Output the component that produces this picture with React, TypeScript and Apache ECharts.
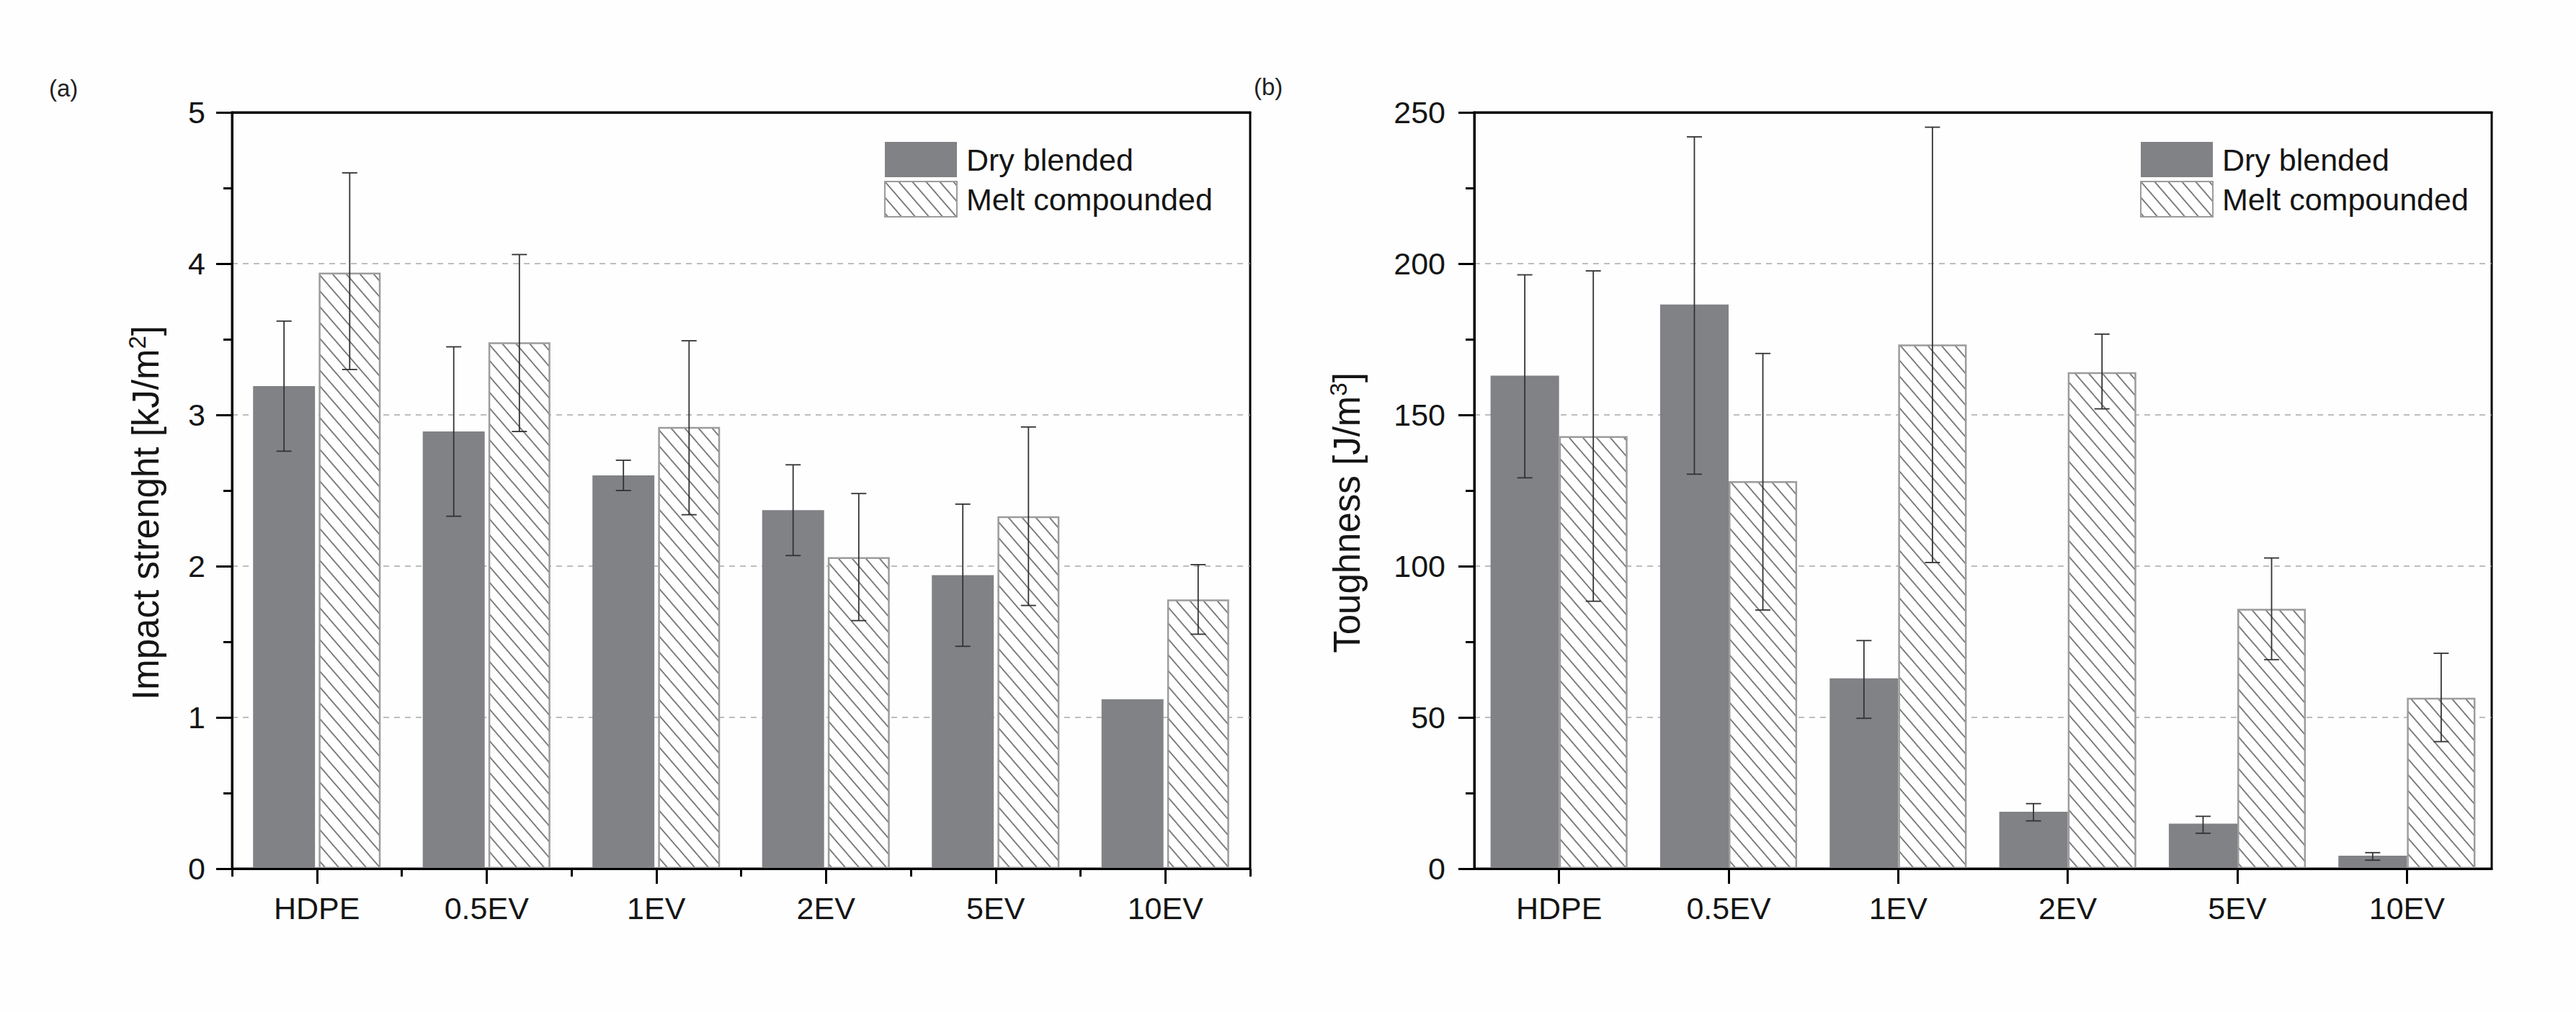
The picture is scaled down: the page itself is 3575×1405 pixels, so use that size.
import React, { useEffect, useRef } from 'react';
import * as echarts from 'echarts';

const categories = ['HDPE', '0.5EV', '1EV', '2EV', '5EV', '10EV'];
const seriesNames = ['Dry blended', 'Melt compounded'];

// (a) Impact strength [kJ/m2]
const impactDry = [3.19, 2.89, 2.6, 2.37, 1.94, 1.12];
const impactDryHigh = [3.62, 3.45, 2.7, 2.67, 2.41, null];
const impactDryLow = [2.76, 2.33, 2.5, 2.07, 1.47, null];
const impactMelt = [3.94, 3.48, 2.92, 2.06, 2.33, 1.78];
const impactMeltHigh = [4.6, 4.06, 3.49, 2.48, 2.92, 2.01];
const impactMeltLow = [3.3, 2.89, 2.34, 1.64, 1.74, 1.55];

// (b) Toughness [J/m3]
const toughDry = [163, 186.5, 62.9, 18.8, 14.9, 4.3];
const toughDryHigh = [196.3, 241.9, 75.4, 21.5, 17.3, 5.3];
const toughDryLow = [129.2, 130.4, 49.7, 15.8, 11.7, 2.8];
const toughMelt = [143, 128.1, 173.3, 164.1, 85.9, 56.5];
const toughMeltHigh = [197.6, 170.3, 245.1, 176.7, 102.7, 71.2];
const toughMeltLow = [88.4, 85.5, 101.2, 152.0, 69.1, 42.0];

const FONT = '"Liberation Sans", Arial, Helvetica, sans-serif';
const DRY_COLOR = '#818286';
const MELT_BORDER = '#9c9c9c';
const TEXT = '#151515';

function makeHatch(): HTMLCanvasElement {
  const w = 19;
  const h = 22;
  const c = document.createElement('canvas');
  c.width = w;
  c.height = h;
  const ctx = c.getContext('2d')!;
  ctx.fillStyle = '#ffffff';
  ctx.fillRect(0, 0, w, h);
  ctx.strokeStyle = '#7a7a7a';
  ctx.lineWidth = 1.8;
  for (let k = -1; k <= 1; k++) {
    ctx.beginPath();
    ctx.moveTo(k * w - w, -h);
    ctx.lineTo(k * w + 2 * w, 2 * h);
    ctx.stroke();
  }
  return c;
}

function errData(low: (number | null)[], high: (number | null)[]) {
  return categories
    .map((_, i) => [i, low[i], high[i]])
    .filter((d) => d[1] != null && d[2] != null);
}

function errorRenderer(side: number, barFrac: number, gapFrac: number) {
  return (params: any, api: any) => {
    const i = api.value(0);
    const lo = api.value(1);
    const hi = api.value(2);
    const band = api.size([1, 0])[0];
    const bw = band * barFrac;
    const off = (side * (bw + bw * gapFrac)) / 2;
    const pt = api.coord([i, hi]);
    const pb = api.coord([i, lo]);
    const x = pt[0] + off;
    const half = 10.5;
    const style = { stroke: '#333333', lineWidth: 1.8 };
    return {
      type: 'group',
      children: [
        { type: 'line', shape: { x1: x, y1: pt[1], x2: x, y2: pb[1] }, style },
        { type: 'line', shape: { x1: x - half, y1: pt[1], x2: x + half, y2: pt[1] }, style },
        { type: 'line', shape: { x1: x - half, y1: pb[1], x2: x + half, y2: pb[1] }, style },
      ],
    };
  };
}

const BAR_A = 0.365;
const GAP_A = 0.06;
const BAR_B = 0.404;
const GAP_B = 0.0;

export default function App() {
  const ref = useRef<HTMLDivElement>(null);
  useEffect(() => {
    if (!ref.current) return;
    const chart = echarts.init(ref.current, null, { renderer: 'svg' });
    const hatch = makeHatch();
    const hatchColor: any = { image: hatch, repeat: 'repeat', imageWidth: hatch.width, imageHeight: hatch.height };

    const mainX = (gridIndex: number) => ({
      type: 'category',
      gridIndex,
      data: categories,
      position: 'bottom',
      z: 5,
      boundaryGap: true,
      axisLine: { show: true, onZero: false, lineStyle: { color: '#000', width: 3 } },
      axisTick: { show: true, alignWithLabel: true, interval: 0, length: 21, lineStyle: { color: '#000', width: 3 } },
      axisLabel: { show: true, interval: 0, margin: 33, fontSize: 43, color: TEXT, fontFamily: FONT },
      splitLine: { show: false },
    });

    const topX = (gridIndex: number) => ({
      type: 'category',
      gridIndex,
      data: categories,
      position: 'top',
      z: 5,
      boundaryGap: true,
      axisLine: { show: true, onZero: false, lineStyle: { color: '#000', width: 3 } },
      axisTick: { show: false },
      axisLabel: { show: false },
      splitLine: { show: false },
    });

    const yAx = (gridIndex: number, max: number, interval: number, name: string, nameGap: number, labelMargin: number) => ({
      type: 'value',
      gridIndex,
      min: 0,
      max,
      interval,
      name,
      nameLocation: 'middle',
      nameRotate: 90,
      nameGap,
      nameTextStyle: {
        color: TEXT,
        fontFamily: FONT,
        fontSize: 51,
        padding: [0, 62, 0, 0],
        rich: {
          t: { fontSize: 51, fontFamily: FONT, color: TEXT },
          s: { fontSize: 33, fontFamily: FONT, color: TEXT, padding: [0, 0, 24, 0] },
        },
      },
      axisLine: { show: true, lineStyle: { color: '#000', width: 3 } },
      axisTick: { show: true, length: 22, lineStyle: { color: '#000', width: 3 } },
      minorTick: { show: true, splitNumber: 2, length: 12, lineStyle: { color: '#000', width: 3 } },
      axisLabel: { margin: labelMargin, fontSize: 43, color: TEXT, fontFamily: FONT },
      splitLine: { show: true, lineStyle: { color: '#a8a8a8', width: 1.6, type: [8, 7] } },
      minorSplitLine: { show: false },
    });

    const option: any = {
      animation: false,
      backgroundColor: '#fefefe',
      grid: [
        { left: 322, top: 156, width: 1413, height: 1050, show: true, borderColor: '#000', borderWidth: 3, backgroundColor: 'transparent' },
        { left: 2046, top: 156, width: 1412, height: 1050, show: true, borderColor: '#000', borderWidth: 3, backgroundColor: 'transparent' },
      ],
      xAxis: [
        mainX(0),
        {
          type: 'category',
          gridIndex: 0,
          data: categories,
          position: 'bottom',
          boundaryGap: true,
          axisLine: { show: false, onZero: false },
          axisTick: { show: true, alignWithLabel: false, interval: 0, length: 11, lineStyle: { color: '#000', width: 3 } },
          axisLabel: { show: false },
          splitLine: { show: false },
        },
        mainX(1),
        topX(0),
        topX(1),
      ],
      yAxis: [
        yAx(0, 5, 1, '{t|Impact strenght [kJ/m}{s|2}{t|]}', 91, 37),
        yAx(1, 250, 50, '{t|Toughness [J/m}{s|3}{t|]}', 148, 40),
      ],
      legend: [0, 1].map((k) => ({
        orient: 'vertical',
        left: k === 0 ? 1227 : 2970,
        top: 197,
        padding: 0,
        itemWidth: 100,
        itemHeight: 49,
        itemGap: 5,
        icon: 'rect',
        selectedMode: false,
        data: seriesNames,
        textStyle: { fontSize: 43, color: TEXT, fontFamily: FONT, padding: [0, 0, 0, 8] },
      })),
      graphic: [
        { type: 'text', x: 68, y: 122, style: { text: '(a)', fontSize: 33, fontFamily: FONT, fill: '#222', verticalAlign: 'middle' } },
        { type: 'text', x: 1740, y: 120, style: { text: '(b)', fontSize: 33, fontFamily: FONT, fill: '#222', verticalAlign: 'middle' } },
      ],
      series: [
        {
          type: 'bar', name: seriesNames[0], xAxisIndex: 0, yAxisIndex: 0, data: impactDry,
          barWidth: `${BAR_A * 100}%`, barGap: `${GAP_A * 100}%`, itemStyle: { color: DRY_COLOR },
        },
        {
          type: 'bar', name: seriesNames[1], xAxisIndex: 0, yAxisIndex: 0, data: impactMelt,
          barWidth: `${BAR_A * 100}%`, barGap: `${GAP_A * 100}%`,
          itemStyle: { color: hatchColor, borderColor: MELT_BORDER, borderWidth: 2.5 },
        },
        {
          type: 'custom', name: seriesNames[0] + ' error', xAxisIndex: 0, yAxisIndex: 0, z: 10,
          renderItem: errorRenderer(-1, BAR_A, GAP_A), encode: { x: 0, y: [1, 2] },
          data: errData(impactDryLow, impactDryHigh),
        },
        {
          type: 'custom', name: seriesNames[1] + ' error', xAxisIndex: 0, yAxisIndex: 0, z: 10,
          renderItem: errorRenderer(1, BAR_A, GAP_A), encode: { x: 0, y: [1, 2] },
          data: errData(impactMeltLow, impactMeltHigh),
        },
        {
          type: 'bar', name: seriesNames[0], xAxisIndex: 2, yAxisIndex: 1, data: toughDry,
          barWidth: `${BAR_B * 100}%`, barGap: `${GAP_B * 100}%`, itemStyle: { color: DRY_COLOR },
        },
        {
          type: 'bar', name: seriesNames[1], xAxisIndex: 2, yAxisIndex: 1, data: toughMelt,
          barWidth: `${BAR_B * 100}%`, barGap: `${GAP_B * 100}%`,
          itemStyle: { color: hatchColor, borderColor: MELT_BORDER, borderWidth: 2.5 },
        },
        {
          type: 'custom', name: seriesNames[0] + ' error b', xAxisIndex: 2, yAxisIndex: 1, z: 10,
          renderItem: errorRenderer(-1, BAR_B, GAP_B), encode: { x: 0, y: [1, 2] },
          data: errData(toughDryLow, toughDryHigh),
        },
        {
          type: 'custom', name: seriesNames[1] + ' error b', xAxisIndex: 2, yAxisIndex: 1, z: 10,
          renderItem: errorRenderer(1, BAR_B, GAP_B), encode: { x: 0, y: [1, 2] },
          data: errData(toughMeltLow, toughMeltHigh),
        },
      ],
    };
    chart.setOption(option);
    return () => chart.dispose();
  }, []);
  return <div ref={ref} style={{ position: 'absolute', left: 0, top: 0, width: 3575, height: 1405 }} />;
}
